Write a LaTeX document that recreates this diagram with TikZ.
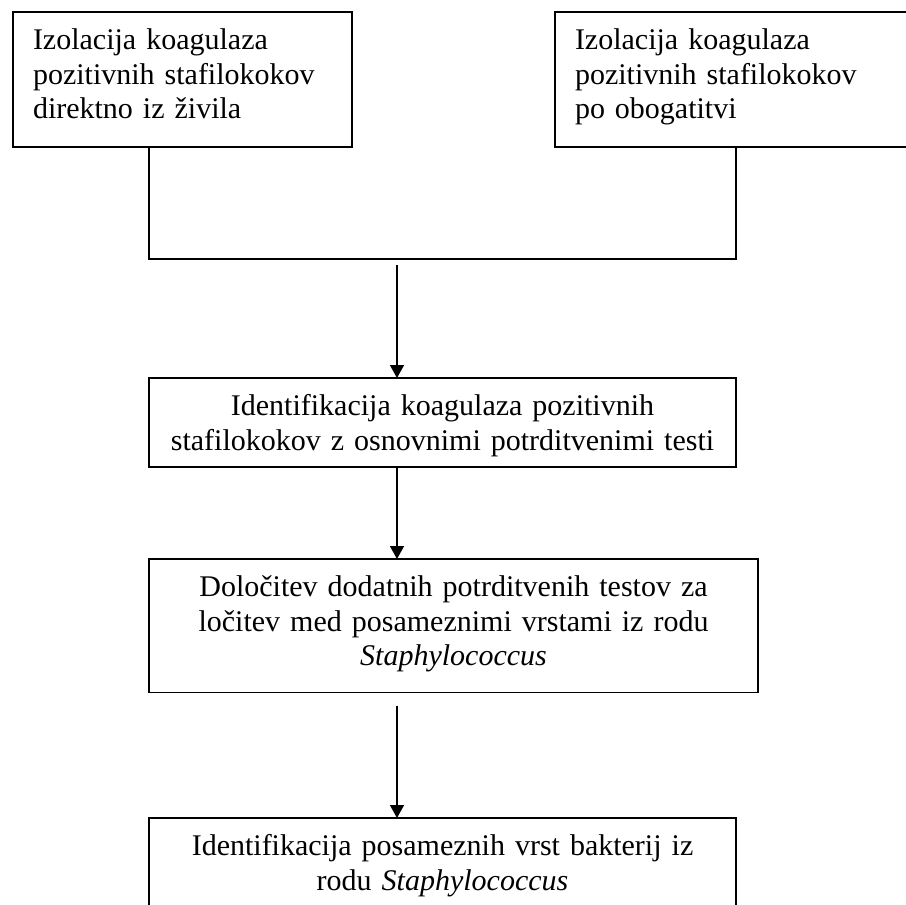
\documentclass[tikz,border=0pt]{standalone}
\usepackage{fontspec}
\setmainfont{Liberation Serif}
\usetikzlibrary{arrows.meta}

\begin{document}
\begin{tikzpicture}[x=0.5pt, y=-0.5pt,
  every node/.style={font=\fontsize{15}{17.25}\selectfont},
  okvir/.style={draw, line width=0.75pt, rectangle, anchor=north west, outer sep=0pt,
    inner xsep=10pt, inner ysep=0pt, text height=18.75pt},
  pijl/.style={line width=0.75pt, -{Triangle[width=7pt,length=6.5pt]}}]
  \useasboundingbox (0,0) rectangle (906,905);

  % izolacija
  \node[okvir, text width=149.5pt, align=left, text depth=48.75pt] (izolDirekt) at (13,12)
    {Izolacija koagulaza\\pozitivnih stafilokokov\\direktno iz živila};
  \node[okvir, text width=161pt, align=left, text depth=48.75pt] (izolObog) at (555,12)
    {Izolacija koagulaza\\pozitivnih stafilokokov\\po obogatitvi};

  % identifikacija
  \node[okvir, inner xsep=4pt, text width=285.5pt, align=center, text depth=25.75pt] (identKoag) at (149,378)
    {Identifikacija koagulaza pozitivnih\\stafilokokov z osnovnimi potrditvenimi testi};
  \node[okvir, inner xsep=4pt, text width=296.5pt, align=center, text depth=48pt] (dolocitev) at (149,559)
    {Določitev dodatnih potrditvenih testov za\\ločitev med posameznimi vrstami iz rodu\\\textit{Staphylococcus}};
  \node[okvir, inner xsep=4pt, text width=285.5pt, align=center, text depth=31.25pt] (identVrst) at (149,818)
    {Identifikacija posameznih vrst bakterij iz\\rodu \textit{Staphylococcus}};

  \coordinate (zdruzi) at (0,259);
  \coordinate (os) at (397,0);

  \draw[line width=0.75pt] (izolDirekt.south -| identKoag.west) |- (zdruzi -| identKoag.east) -- (izolObog.south);

  \draw[pijl] ([yshift=-3pt]zdruzi -| os) -- (identKoag.north -| os);
  \draw[pijl] (identKoag.south -| os) -- (dolocitev.north -| os);
  \draw[pijl] ([yshift=-6.5pt]dolocitev.south -| os) -- (identVrst.north -| os);
\end{tikzpicture}
\end{document}
